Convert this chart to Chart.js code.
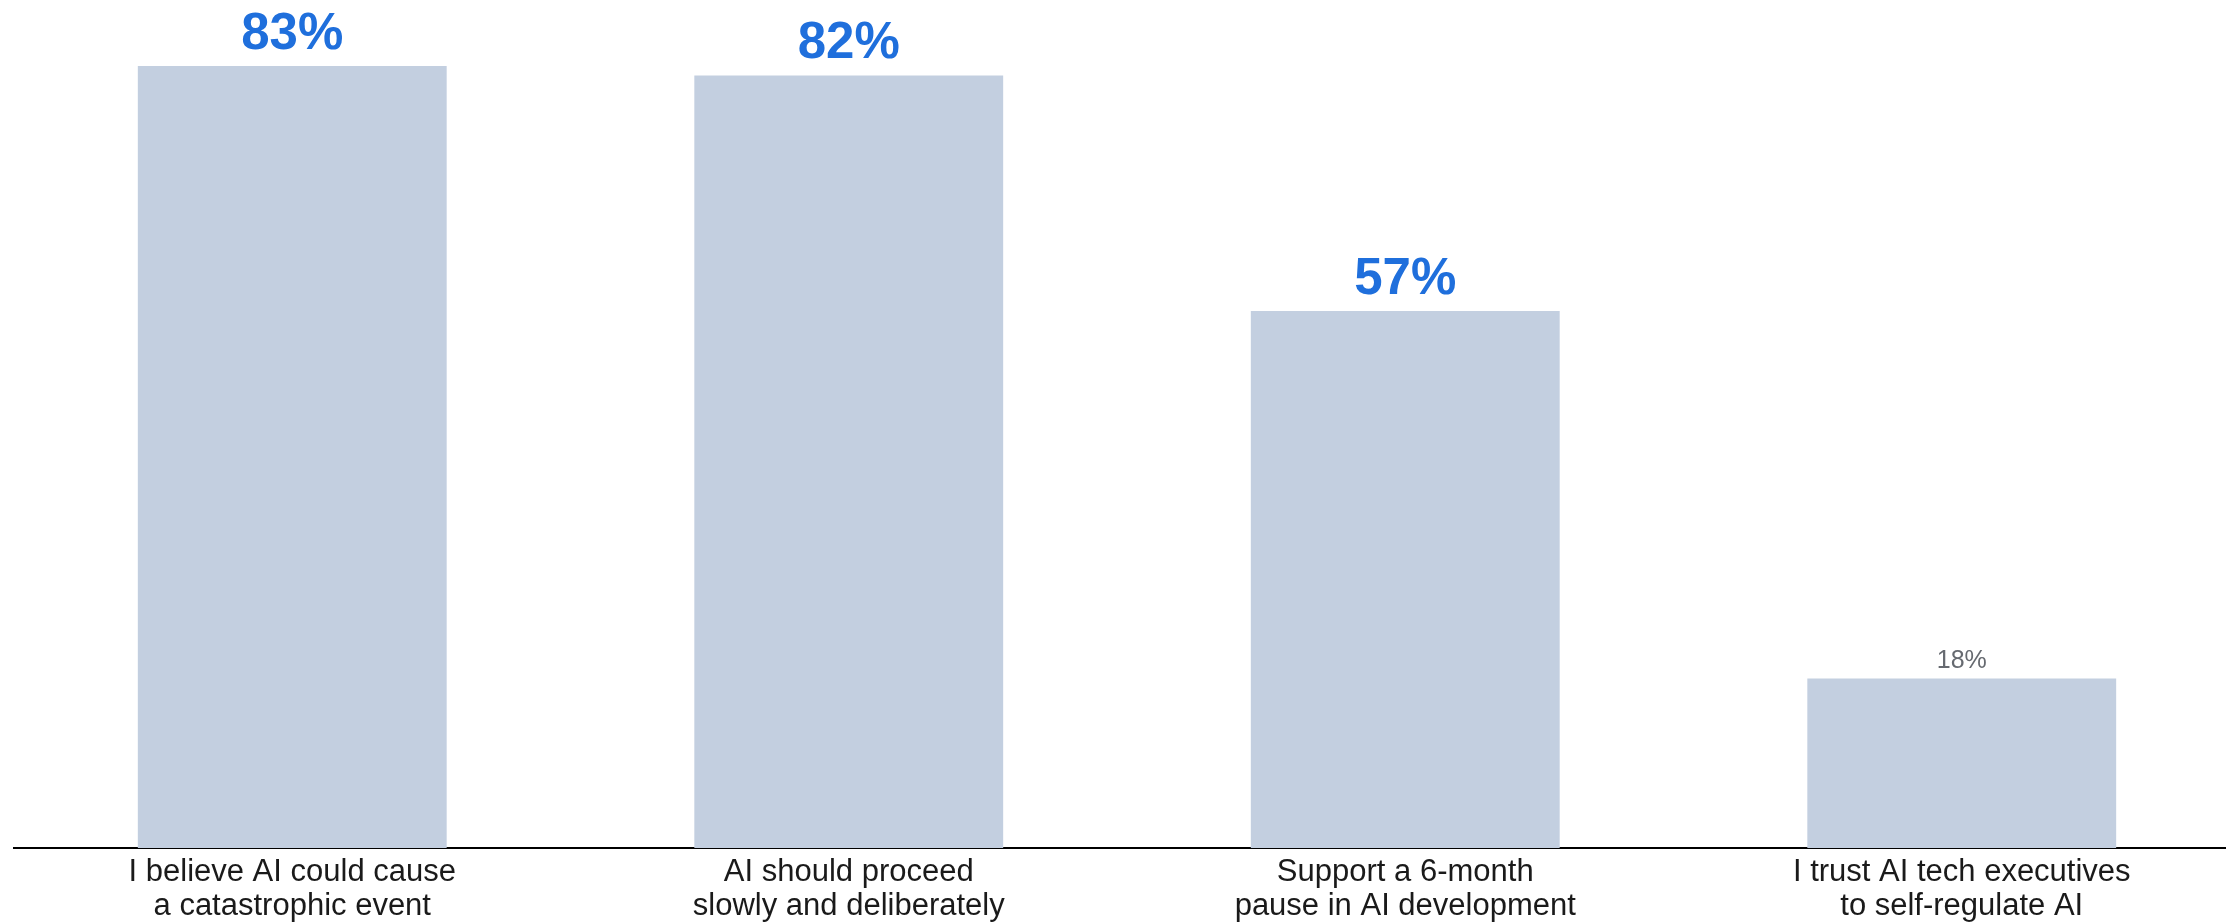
<!DOCTYPE html>
<html>
<head>
<meta charset="utf-8">
<script src="https://cdn.jsdelivr.net/npm/chart.js@4"></script>
<style>
  html, body { margin: 0; padding: 0; background: #fff; overflow: hidden; }
  #wrap { position: relative; width: 2240px; height: 922px; }
</style>
</head>
<body>
<div id="wrap"><canvas id="barChart"></canvas></div>
<script>
// ── Data ──────────────────────────────────────────────────
const categories = [
  ['I believe AI could cause', 'a catastrophic event'],
  ['AI should proceed', 'slowly and deliberately'],
  ['Support a 6-month', 'pause in AI development'],
  ['I trust AI tech executives', 'to self-regulate AI'],
];
const shares = [83, 82, 57, 18];
const emphasised = [true, true, true, false];

const FONT = '"Liberation Sans", Arial, Helvetica, sans-serif';

// value labels above each bar
const valueLabels = {
  id: 'valueLabels',
  afterDatasetsDraw(chart) {
    const ctx = chart.ctx;
    const meta = chart.getDatasetMeta(0);
    ctx.save();
    ctx.textAlign = 'center';
    ctx.textBaseline = 'alphabetic';
    meta.data.forEach((bar, i) => {
      if (emphasised[i]) {
        ctx.font = `bold 51px ${FONT}`;
        ctx.fillStyle = '#1f6fdc';
        ctx.fillText(`${shares[i]}%`, bar.x, bar.y - 17);
      } else {
        ctx.font = `25px ${FONT}`;
        ctx.fillStyle = '#666a70';
        ctx.fillText(`${shares[i]}%`, bar.x, bar.y - 10);
      }
    });
    ctx.restore();
  },
};

new Chart(document.getElementById('barChart'), {
  type: 'bar',
  data: {
    labels: categories,
    datasets: [{
      data: shares,
      backgroundColor: '#c3cfe0',
      borderWidth: 0,
      barPercentage: 0.555,
      categoryPercentage: 1,
    }],
  },
  options: {
    responsive: true,
    maintainAspectRatio: false,
    animation: false,
    layout: { padding: { left: 14, right: 0, top: 0, bottom: 0 } },
    scales: {
      x: {
        grid: { display: false, drawTicks: false },
        border: { display: true, color: '#000', width: 2 },
        ticks: {
          color: '#1a1a1a',
          font: { family: FONT, size: 31, lineHeight: 1.1 },
          padding: 7,
          maxRotation: 0,
          autoSkip: false,
        },
        afterFit: s => { s.height = 74; },
      },
      y: {
        display: false,
        min: 0,
        max: 90,
      },
    },
    plugins: {
      legend: { display: false },
      tooltip: { enabled: false },
    },
  },
  plugins: [valueLabels],
});
</script>
</body>
</html>
